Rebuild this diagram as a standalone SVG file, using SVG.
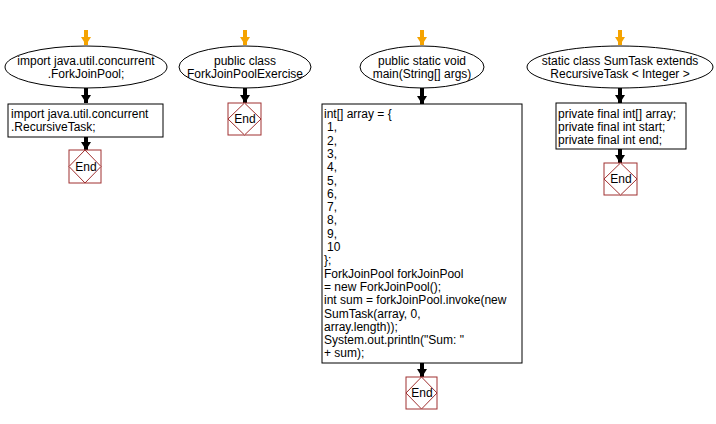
<svg xmlns="http://www.w3.org/2000/svg" width="716" height="424" viewBox="0 0 716 424">
<style>
text{font-family:"Liberation Sans",Arial,sans-serif;font-size:12px;fill:#000}
.c{text-anchor:middle}
.sh{fill:#fff;stroke:#000;stroke-width:1}
.endbox{fill:#fff;stroke:#a03030;stroke-width:1}
.start{stroke:#f5a300;stroke-width:4}
.flow{stroke:#000;stroke-width:4}
</style>
<defs>
<marker id="ao" markerUnits="userSpaceOnUse" markerWidth="10" markerHeight="10" refX="8" refY="5" orient="auto"><path d="M0,0 L8,5 L0,10 z" fill="#f5a300"/></marker>
<marker id="ab" markerUnits="userSpaceOnUse" markerWidth="10" markerHeight="10" refX="8" refY="5" orient="auto"><path d="M0,0 L8,5 L0,10 z" fill="#000"/></marker>
</defs>
<rect width="716" height="424" fill="#fff"/>
<g id="connectors">
<line class="start" x1="86" y1="30" x2="86" y2="45" marker-end="url(#ao)"/>
<line class="flow" x1="86" y1="88" x2="86" y2="103" marker-end="url(#ab)"/>
<line class="flow" x1="86" y1="137" x2="86" y2="150" marker-end="url(#ab)"/>
<line class="start" x1="245" y1="30" x2="245" y2="45" marker-end="url(#ao)"/>
<line class="flow" x1="245" y1="88" x2="245" y2="103" marker-end="url(#ab)"/>
<line class="start" x1="422" y1="30" x2="422" y2="45" marker-end="url(#ao)"/>
<line class="flow" x1="422" y1="88" x2="422" y2="104" marker-end="url(#ab)"/>
<line class="flow" x1="422" y1="363" x2="422" y2="377" marker-end="url(#ab)"/>
<line class="start" x1="620" y1="30" x2="620" y2="45" marker-end="url(#ao)"/>
<line class="flow" x1="620" y1="88" x2="620" y2="103" marker-end="url(#ab)"/>
<line class="flow" x1="620" y1="149" x2="620" y2="163" marker-end="url(#ab)"/>
</g>
<g id="n1">
<ellipse class="sh" cx="86" cy="67" rx="81" ry="21"/>
<text class="c" x="86" y="65">import java.util.concurrent</text>
<text class="c" x="86" y="78">.ForkJoinPool;</text>
</g>
<g id="n2">
<rect class="sh" x="8" y="104" width="155" height="33"/>
<text x="11" y="118">import java.util.concurrent</text>
<text x="11" y="131">.RecursiveTask;</text>
</g>
<g id="n3">
<rect class="endbox" x="69" y="150" width="32" height="33"/>
<path class="endbox" d="M85,150 L101,166.5 L85,183 L69,166.5 z"/>
<text class="c" x="86" y="171">End</text>
</g>
<g id="n4">
<ellipse class="sh" cx="245" cy="67" rx="66" ry="21"/>
<text class="c" x="245" y="65">public class</text>
<text class="c" x="245" y="78">ForkJoinPoolExercise</text>
</g>
<g id="n5">
<rect class="endbox" x="228" y="103" width="33" height="32"/>
<path class="endbox" d="M244.5,103 L261,119 L244.5,135 L228,119 z"/>
<text class="c" x="245" y="123">End</text>
</g>
<g id="n6">
<ellipse class="sh" cx="422" cy="67" rx="62" ry="21"/>
<text class="c" x="422" y="65">public static void</text>
<text class="c" x="422" y="78">main(String[] args)</text>
</g>
<g id="n7">
<rect class="sh" x="322" y="104" width="200" height="259"/>
<text x="324" y="118">int[] array = {</text>
<text x="327" y="131.3">1,</text>
<text x="327" y="144.6">2,</text>
<text x="327" y="157.9">3,</text>
<text x="327" y="171.2">4,</text>
<text x="327" y="184.5">5,</text>
<text x="327" y="197.8">6,</text>
<text x="327" y="211.1">7,</text>
<text x="327" y="224.4">8,</text>
<text x="327" y="237.7">9,</text>
<text x="327" y="251">10</text>
<text x="324" y="264.3">};</text>
<text x="324" y="277.6">ForkJoinPool forkJoinPool</text>
<text x="324" y="290.9">= new ForkJoinPool();</text>
<text x="324" y="304.2">int sum = forkJoinPool.invoke(new</text>
<text x="324" y="317.5">SumTask(array, 0,</text>
<text x="324" y="330.8">array.length));</text>
<text x="324" y="344.1">System.out.println("Sum: "</text>
<text x="324" y="357.4">+ sum);</text>
</g>
<g id="n8">
<rect class="endbox" x="406" y="377" width="31" height="32"/>
<path class="endbox" d="M421.5,377 L437,393 L421.5,409 L406,393 z"/>
<text class="c" x="422" y="397">End</text>
</g>
<g id="n9">
<ellipse class="sh" cx="620" cy="67" rx="93" ry="21"/>
<text class="c" x="620" y="65">static class SumTask extends</text>
<text class="c" x="620" y="78">RecursiveTask &lt; Integer &gt;</text>
</g>
<g id="n10">
<rect class="sh" x="556" y="103" width="130" height="46"/>
<text x="558" y="118">private final int[] array;</text>
<text x="558" y="131">private final int start;</text>
<text x="558" y="144">private final int end;</text>
</g>
<g id="n11">
<rect class="endbox" x="604" y="163" width="33" height="32"/>
<path class="endbox" d="M620.5,163 L637,179 L620.5,195 L604,179 z"/>
<text class="c" x="621" y="183">End</text>
</g>
</svg>
